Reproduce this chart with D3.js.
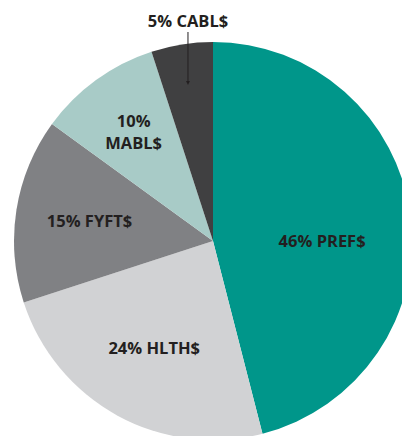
<!DOCTYPE html>
<html>
<head>
<meta charset="utf-8">
<script src="https://cdn.jsdelivr.net/npm/d3@7"></script>
<style>
  body { margin: 0; background: #fff; }
  svg text { font-family: "Open Sans", sans-serif; font-weight: 700; fill: #231f20; }
</style>
</head>
<body>
<div id="chart"></div>
<script>
// Chart data
const categories = ["PREF$", "HLTH$", "FYFT$", "MABL$", "CABL$"];
const shares = [46, 24, 15, 10, 5];
const colors = ["#00968a", "#d1d2d4", "#808184", "#a8cbc7", "#404041"];

// Label placement (radius from centre, extra y nudge)
const labelR = [110, 122, 125, 135, 160];
const labelDy = [14, 0, 0, 0, 0];

let width = 402, height = 436;
let cx = 213, cy = 241, radius = 199;
let fontSize = "16.5px";

let svg = d3.select("#chart")
    .append("svg")
    .attr("width", width)
    .attr("height", height);

let g = svg.append("g")
    .attr("transform", `translate(${cx}, ${cy})`);

const data = categories.map((c, i) => ({name: c, value: shares[i], i: i}));

const pie = d3.pie()
    .value(d => d.value)
    .sort(null);

const arc = d3.arc()
    .innerRadius(0)
    .outerRadius(radius);

const arcs = pie(data);

// Slices
g.selectAll(".slice")
    .data(arcs)
    .enter()
    .append("path")
    .attr("class", "slice")
    .attr("d", arc)
    .attr("fill", d => colors[d.data.i]);

// Labels inside slices
arcs.forEach(d => {
    const i = d.data.i;
    const la = d3.arc().innerRadius(labelR[i]).outerRadius(labelR[i]);
    const [x, y] = la.centroid(d);
    if (d.data.name === "CABL$") {
        // outside label with leader line
        svg.append("defs").append("marker")
            .attr("id", "arrow")
            .attr("viewBox", "0 0 6 6")
            .attr("refX", 3).attr("refY", 3)
            .attr("markerWidth", 4).attr("markerHeight", 4)
            .attr("orient", "auto")
            .append("path")
            .attr("d", "M0,0L6,3L0,6Z")
            .attr("fill", "#231f20");
        g.append("line")
            .attr("x1", x).attr("y1", -radius - 10)
            .attr("x2", x).attr("y2", y)
            .attr("stroke", "#231f20")
            .attr("stroke-width", 1)
            .attr("marker-end", "url(#arrow)");
        g.append("text")
            .attr("x", x)
            .attr("y", -radius - 15)
            .attr("text-anchor", "middle")
            .style("font-size", fontSize)
            .text(d.data.value + "% " + d.data.name);
    } else if (d.data.name === "MABL$") {
        const t = g.append("text")
            .attr("text-anchor", "middle")
            .style("font-size", fontSize);
        t.append("tspan").attr("x", x).attr("y", y - 5).text(d.data.value + "%");
        t.append("tspan").attr("x", x).attr("y", y + 17).text(d.data.name);
    } else {
        g.append("text")
            .attr("x", x)
            .attr("y", y + labelDy[i])
            .attr("dy", "0.35em")
            .attr("text-anchor", "middle")
            .style("font-size", fontSize)
            .text(d.data.value + "% " + d.data.name);
    }
});
</script>
</body>
</html>
